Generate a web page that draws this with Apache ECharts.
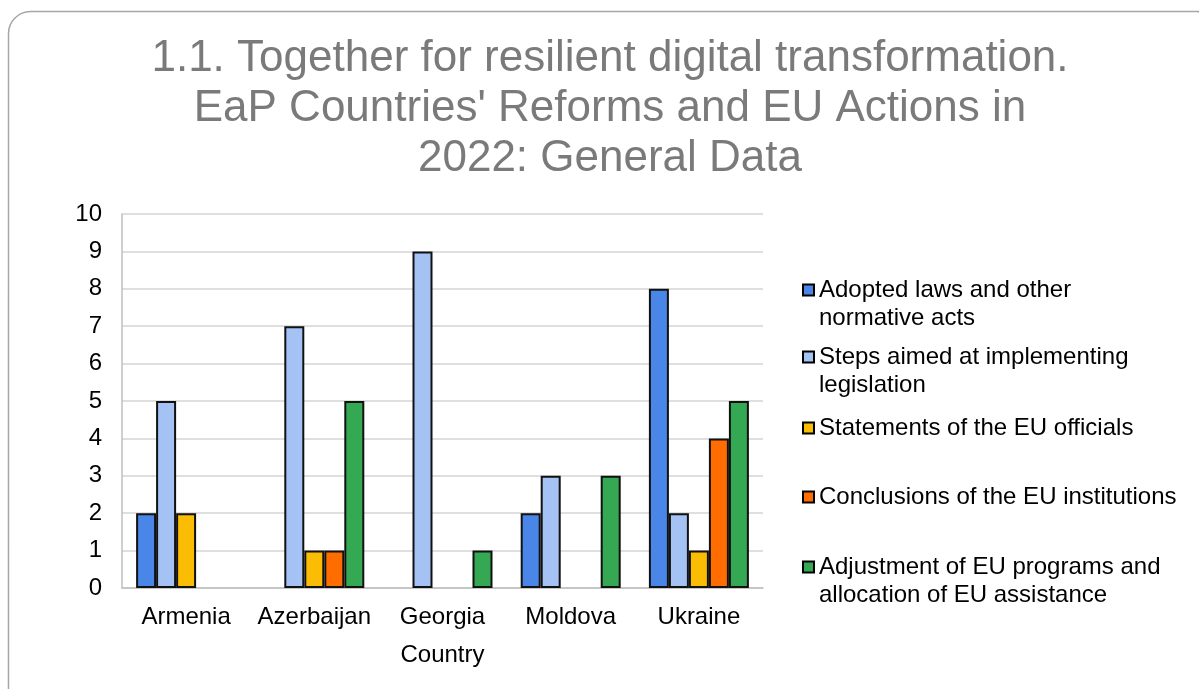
<!DOCTYPE html>
<html>
<head>
<meta charset="utf-8">
<script src="https://cdn.jsdelivr.net/npm/echarts@6/dist/echarts.min.js"></script>
<style>
  html, body { margin: 0; padding: 0; background: #fff; }
  #chart { width: 1199px; height: 689px; }
</style>
</head>
<body>
<div id="chart"></div>
<script>
// Countries on the category axis
const countries = ['Armenia', 'Azerbaijan', 'Georgia', 'Moldova', 'Ukraine'];

// Counts per country (null = nothing recorded)
const adoptedLaws   = [2, null, null, 2, 8];
const stepsImplem   = [5, 7, 9, 3, 2];
const statementsEU  = [2, 1, null, null, 1];
const conclusionsEU = [null, 1, null, null, 4];
const adjustmentEU  = [null, 5, 1, 3, 5];

const seriesNames = [
  'Adopted laws and other\nnormative acts',
  'Steps aimed at implementing\nlegislation',
  'Statements of the EU officials',
  'Conclusions of the EU institutions',
  'Adjustment of EU programs and\nallocation of EU assistance'
];
const seriesData = [adoptedLaws, stepsImplem, statementsEU, conclusionsEU, adjustmentEU];
const colors = ['#4a86e8', '#a4c2f4', '#fbbc04', '#ff6d01', '#34a853'];

const yTicks = [0, 1, 2, 3, 4, 5, 6, 7, 8, 9, 10];

const FONT = '"Liberation Sans", Arial, sans-serif';

const chart = echarts.init(document.getElementById('chart'));

// One legend block per series so each entry sits at its own height.
// Two-line labels get an empty leading line so the swatch lines up with the first line.
const legendTops = [248, 315, 414, 483, 525];
const legends = seriesNames.map((name, i) => {
  const twoLine = name.indexOf('\n') >= 0;
  return {
    data: [name],
    orient: 'vertical',
    left: 802,
    top: legendTops[i],
    padding: 0,
    icon: 'rect',
    itemWidth: 11,
    itemHeight: 11,
    itemGap: 0,
    selectedMode: false,
    formatter: n => (twoLine ? '\n' : '') + n,
    itemStyle: { borderColor: '#000', borderWidth: 2 },
    textStyle: {
      fontFamily: FONT,
      fontSize: 24,
      color: '#000',
      lineHeight: 28
    }
  };
});

chart.setOption({
  animation: false,
  color: colors,
  graphic: [{
    type: 'rect',
    shape: { x: 8.5, y: 11.5, width: 1210, height: 700, r: 22 },
    style: { fill: 'none', stroke: '#a6a6a6', lineWidth: 1.5 },
    z: -10
  }],
  title: {
    text: '1.1. Together for resilient digital transformation.\nEaP Countries\' Reforms and EU Actions in\n2022: General Data',
    left: 610,
    top: 34,
    textAlign: 'center',
    padding: 0,
    textStyle: {
      fontFamily: FONT,
      fontSize: 44,
      fontWeight: 'normal',
      color: '#7a7a7a',
      lineHeight: 50
    }
  },
  legend: legends,
  grid: { left: 122, right: 436, top: 214, bottom: 101, containLabel: false },
  xAxis: {
    type: 'category',
    data: countries,
    name: 'Country',
    nameLocation: 'middle',
    nameGap: 55,
    nameTextStyle: { fontFamily: FONT, fontSize: 24, color: '#000' },
    axisLine: { lineStyle: { color: '#bfbfbf', width: 1.5 } },
    axisTick: { show: false },
    axisLabel: { fontFamily: FONT, fontSize: 24, color: '#000', margin: 17, interval: 0, hideOverlap: false }
  },
  yAxis: {
    type: 'value',
    min: yTicks[0],
    max: yTicks[yTicks.length - 1],
    interval: 1,
    axisLine: { show: true, lineStyle: { color: '#bfbfbf', width: 1.5 } },
    axisTick: { show: false },
    axisLabel: { fontFamily: FONT, fontSize: 24, color: '#000', margin: 20 },
    splitLine: { lineStyle: { color: '#d4d4d4', width: 1.5 } }
  },
  series: seriesNames.map((name, i) => ({
    name: name,
    type: 'bar',
    data: seriesData[i],
    barGap: '0%',
    barCategoryGap: '22%',
    itemStyle: { color: colors[i], borderColor: '#111', borderWidth: 2 }
  }))
});
</script>
</body>
</html>
